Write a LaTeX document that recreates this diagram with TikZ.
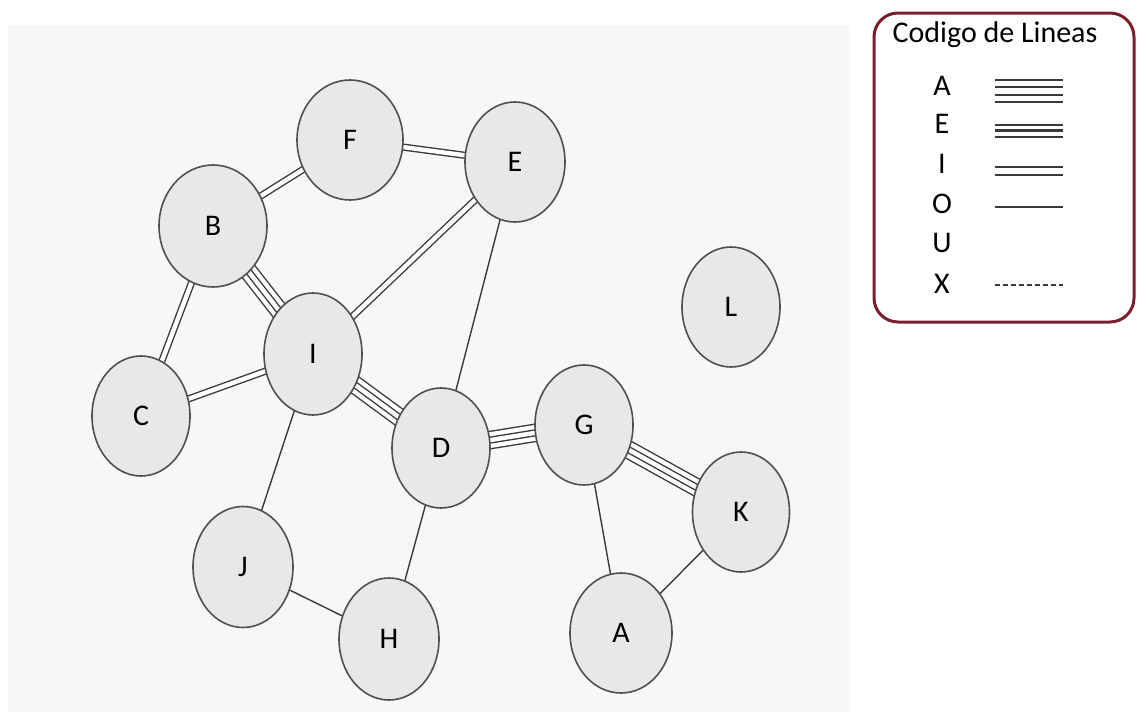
\documentclass[tikz,border=0pt]{standalone}
\usepackage{fontspec}
\setmainfont{Carlito}
\usetikzlibrary{shapes.geometric,backgrounds}
\definecolor{nodefill}{HTML}{E8E8E8}
\definecolor{nodeline}{HTML}{505050}
\definecolor{edgecol}{HTML}{3A3A3A}
\definecolor{legendframe}{HTML}{7A1E2C}
\definecolor{paper}{HTML}{F7F7F7}

\begin{document}
\begin{tikzpicture}[x=1pt,y=-1pt,
  dept/.style={ellipse, draw=nodeline, line width=1.6pt, fill=nodefill,
    inner sep=0pt, minimum width=100pt, minimum height=120pt,
    font=\fontsize{30}{32}\selectfont},
  relO/.style={draw=edgecol, line width=1.4pt},
  relI/.style={draw=edgecol, line width=1.4pt, double=white, double distance=4.4pt},
  relA/.style={relI, preaction={draw=edgecol, line width=1.4pt, double=white, double distance=15.8pt}},
  keyletter/.style={font=\fontsize{30}{32}\selectfont, inner sep=0pt},
  keyline/.style={draw=edgecol, line width=2.4pt},
]
\useasboundingbox (0,0) rectangle (1138,712);

% departments
\node[dept, minimum width=106pt] (F) at (350,140) {F};
\node[dept] (E) at (515,162) {E};
\node[dept, minimum width=108pt, minimum height=122pt] (B) at (213,226) {B};
\node[dept, minimum width=98pt, minimum height=122pt] (I) at (313,354) {I};
\node[dept, minimum width=98pt] (C) at (141,416) {C};
\node[dept, minimum width=98pt] (D) at (441,448) {D};
\node[dept, minimum width=98pt] (G) at (584,425) {G};
\node[dept, minimum width=97pt] (K) at (741,512) {K};
\node[dept, minimum width=98pt] (L) at (731,307) {L};
\node[dept, minimum height=121pt] (J) at (243,567) {J};
\node[dept, minimum height=122pt] (H) at (389,639) {H};
\node[dept, minimum width=102pt] (A) at (621,633) {A};

% paper and relationships, drawn beneath the departments
\begin{pgfonlayer}{background}
  \fill[white] (0,0) rectangle (1138,712);
  \fill[paper] (8,25) rectangle (850,712);
  \draw[relA] (B.center) -- (I.center);
  \draw[relA] (I.center) -- (D.center);
  \draw[relA] (D.center) -- (G.center);
  \draw[relA] (G.center) -- (K.center);
  \draw[relI] (B.center) -- (F.center);
  \draw[relI] (F.center) -- (E.center);
  \draw[relI] (B.center) -- (C.center);
  \draw[relI] (C.center) -- (I.center);
  \draw[relI] (I.center) -- (E.center);
  \draw[relO] (E.center) -- (D.center);
  \draw[relO] (I.center) -- (J.center);
  \draw[relO] (J.center) -- (H.center);
  \draw[relO] (D.center) -- (H.center);
  \draw[relO] (G.center) -- (A.center);
  \draw[relO] (K.center) -- (A.center);
\end{pgfonlayer}

% line code legend
\draw[legendframe, line width=3pt, rounded corners=24pt] (874,13) rectangle (1134,322);
\node[font=\fontsize{30}{32}\selectfont, inner sep=0pt] (title) at (995,35) {Codigo de Lineas};
\node[keyletter] (kA) at (942,86) {A};
\node[keyletter] (kE) at (942,124) {E};
\node[keyletter] (kI) at (942,164) {I};
\node[keyletter] (kO) at (942,204) {O};
\node[keyletter] (kU) at (942,243) {U};
\node[keyletter] (kX) at (942,284) {X};
\foreach \y in {80,87,95,102} \draw[keyline] (995,\y) -- (1063,\y);
\foreach \y in {125,130.5,137} \draw[keyline, line width=2.6pt] (995,\y) -- (1063,\y);
\foreach \y in {167,175} \draw[keyline, line width=2pt] (995,\y) -- (1063,\y);
\draw[keyline, line width=2pt] (995,207) -- (1063,207);
\draw[keyline, line width=1.4pt, dash pattern=on 5pt off 3pt] (995,285) -- (1063,285);
\end{tikzpicture}
\end{document}
